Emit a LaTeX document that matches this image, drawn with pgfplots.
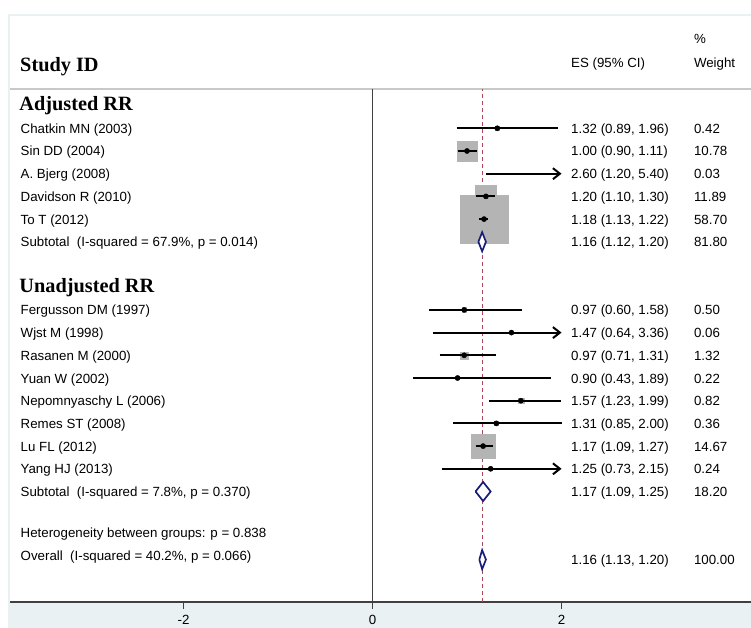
\documentclass[border=0pt]{standalone}
\usepackage{fontspec}
\setmainfont{Liberation Sans}
\newfontfamily\headfont{Liberation Serif}
\usepackage{pgfplots}
\usepackage{pgfplotstable}
\pgfplotsset{compat=1.18}
\usetikzlibrary{arrows.meta}

\definecolor{regionblue}{RGB}{233,241,243}
\definecolor{boxgray}{RGB}{180,180,180}
\definecolor{diamondnavy}{RGB}{26,30,122}
\definecolor{refred}{RGB}{176,72,88}
\definecolor{axisgray}{RGB}{64,64,64}
\definecolor{rulegray}{RGB}{200,200,200}

% study estimates: row (counted from the bottom), ES, 95% CI, % weight
\pgfplotstableread{
row es   lo   hi   w
20  1.32 0.89 1.96 0.42
19  1.00 0.90 1.11 10.78
18  2.60 1.20 5.40 0.03
17  1.20 1.10 1.30 11.89
16  1.18 1.13 1.22 58.70
12  0.97 0.60 1.58 0.50
11  1.47 0.64 3.36 0.06
10  0.97 0.71 1.31 1.32
9   0.90 0.43 1.89 0.22
8   1.57 1.23 1.99 0.82
7   1.31 0.85 2.00 0.36
6   1.17 1.09 1.27 14.67
5   1.25 0.73 2.15 0.24
}\studies

\tikzset{
  txt/.style={anchor=base west, inner sep=0pt, font=\fontsize{13.3}{15}\selectfont},
  row/.style={txt, yshift=-5pt},
  head/.style={anchor=base west, inner sep=0pt, font=\headfont\bfseries\fontsize{20.3}{23}\selectfont},
  ci/.style={black, line width=2pt, line cap=butt},
  ciarrow/.style={ci, -{Straight Barb[length=7pt, width=11pt]}},
  pooled/.style={draw=diamondnavy, fill=white, line width=1.7pt, line join=miter},
}

\begin{document}
\begin{tikzpicture}
\begin{axis}[
  set layers,
  x=94.5pt, y=22.7pt,
  xmin=-3.836, xmax=4.005,
  ymin=-0.868, ymax=21.731,
  clip=false, clip marker paths=true,
  axis x line=bottom, axis y line=none,
  axis line style={-, draw=axisgray, line width=1.5pt},
  xtick={-2,0,2}, ytick=\empty,
  tick align=outside, major tick length=7pt,
  tick style={axisgray, line width=1.2pt},
  /pgf/number format/assume math mode=true,
  xticklabel style={font=\fontsize{13.3}{15}\selectfont, inner sep=0pt, yshift=-6pt},
]
% graph region and plot region backgrounds
\begin{pgfonlayer}{axis background}
  \fill[regionblue] (axis cs:-3.857,-2.013) rectangle (axis cs:4.005,25.035);
  \fill[white] (axis cs:-3.836,-0.868) rectangle (axis cs:4.005,24.947);
\end{pgfonlayer}
\coordinate (bbsw) at (axis cs:-3.942,-2.013);
\coordinate (bbne) at (axis cs:4.005,25.652);

% header rule and null line
\draw[rulegray, line width=1.5pt] (axis cs:-3.836,21.731) -- (axis cs:4.005,21.731);
\addplot[axisgray, line width=1.5pt] coordinates {(0,-0.868) (0,21.731)};

% overall effect line, behind the weight boxes
\addplot[refred, line width=0.9pt, dash pattern=on 4pt off 3pt]
  coordinates {(1.16,-0.868) (1.16,21.731)};

% weight boxes (area proportional to weight)
\addplot[scatter, only marks, mark=square*,
  restrict x to domain=0:2,
  scatter/use mapped color={draw=boxgray, fill=boxgray},
  visualization depends on={3.11*sqrt(\thisrow{w}) \as \halfside},
  scatter/@pre marker code/.append style={/tikz/mark size=\halfside}]
  table[x=es, y=row] {\studies};

% confidence intervals (truncated at 2 with an arrow)
\addplot[ci] coordinates {(0.89,20) (1.96,20)};
\addplot[ci] coordinates {(0.90,19) (1.11,19)};
\addplot[ciarrow] coordinates {(1.20,18) (2,18)};
\addplot[ci] coordinates {(1.10,17) (1.30,17)};
\addplot[ci] coordinates {(1.13,16) (1.22,16)};
\addplot[ci] coordinates {(0.60,12) (1.58,12)};
\addplot[ciarrow] coordinates {(0.64,11) (2,11)};
\addplot[ci] coordinates {(0.71,10) (1.31,10)};
\addplot[ci] coordinates {(0.43,9) (1.89,9)};
\addplot[ci] coordinates {(1.23,8) (1.99,8)};
\addplot[ci] coordinates {(0.85,7) (2.00,7)};
\addplot[ci] coordinates {(1.09,6) (1.27,6)};
\addplot[ciarrow] coordinates {(0.73,5) (2,5)};

% point estimates
\addplot[only marks, mark=*, mark size=2.6pt, black, restrict x to domain=0:2]
  table[x=es, y=row] {\studies};

% pooled estimates
\addplot[pooled] coordinates {(1.12,15) (1.16,15.42) (1.20,15) (1.16,14.58) (1.12,15)};
\addplot[pooled] coordinates {(1.09,4) (1.17,4.42) (1.25,4) (1.17,3.58) (1.09,4)};
\addplot[pooled] coordinates {(1.13,1) (1.16,1.42) (1.20,1) (1.16,0.58) (1.13,1)};

% column headers
\node[head] at (axis cs:-3.730,22.493) {Study ID};
\node[txt] at (axis cs:2.100,22.687) {ES (95\% CI)};
\node[txt] at (axis cs:3.400,23.744) {\%};
\node[txt] at (axis cs:3.400,22.687) {Weight};

% group headings
\node[head] at (axis cs:-3.738,20.762) {Adjusted RR};
\node[head] at (axis cs:-3.738,12.745) {Unadjusted RR};

% study labels
\node[row] at (axis cs:-3.725,20) {Chatkin MN (2003)};
\node[row] at (axis cs:-3.725,19) {Sin DD (2004)};
\node[row] at (axis cs:-3.725,18) {A. Bjerg (2008)};
\node[row] at (axis cs:-3.725,17) {Davidson R (2010)};
\node[row] at (axis cs:-3.725,16) {To T (2012)};
\node[row] at (axis cs:-3.725,15) {Subtotal\ \ (I-squared = 67.9\%, p = 0.014)};
\node[row] at (axis cs:-3.725,12) {Fergusson DM (1997)};
\node[row] at (axis cs:-3.725,11) {Wjst M (1998)};
\node[row] at (axis cs:-3.725,10) {Rasanen M (2000)};
\node[row] at (axis cs:-3.725,9) {Yuan W (2002)};
\node[row] at (axis cs:-3.725,8) {Nepomnyaschy L (2006)};
\node[row] at (axis cs:-3.725,7) {Remes ST (2008)};
\node[row] at (axis cs:-3.725,6) {Lu FL (2012)};
\node[row] at (axis cs:-3.725,5) {Yang HJ (2013)};
\node[row] at (axis cs:-3.725,4) {Subtotal\ \ (I-squared = 7.8\%, p = 0.370)};
\node[row] at (axis cs:-3.725,2.2) {Heterogeneity between groups: p = 0.838};
\node[row] at (axis cs:-3.725,1.2) {Overall\ \ (I-squared = 40.2\%, p = 0.066)};

% effect sizes
\node[row] at (axis cs:2.100,20) {1.32 (0.89, 1.96)};
\node[row] at (axis cs:2.100,19) {1.00 (0.90, 1.11)};
\node[row] at (axis cs:2.100,18) {2.60 (1.20, 5.40)};
\node[row] at (axis cs:2.100,17) {1.20 (1.10, 1.30)};
\node[row] at (axis cs:2.100,16) {1.18 (1.13, 1.22)};
\node[row] at (axis cs:2.100,15) {1.16 (1.12, 1.20)};
\node[row] at (axis cs:2.100,12) {0.97 (0.60, 1.58)};
\node[row] at (axis cs:2.100,11) {1.47 (0.64, 3.36)};
\node[row] at (axis cs:2.100,10) {0.97 (0.71, 1.31)};
\node[row] at (axis cs:2.100,9) {0.90 (0.43, 1.89)};
\node[row] at (axis cs:2.100,8) {1.57 (1.23, 1.99)};
\node[row] at (axis cs:2.100,7) {1.31 (0.85, 2.00)};
\node[row] at (axis cs:2.100,6) {1.17 (1.09, 1.27)};
\node[row] at (axis cs:2.100,5) {1.25 (0.73, 2.15)};
\node[row] at (axis cs:2.100,4) {1.17 (1.09, 1.25)};
\node[row] at (axis cs:2.100,1) {1.16 (1.13, 1.20)};

% weights
\node[row] at (axis cs:3.400,20) {0.42};
\node[row] at (axis cs:3.400,19) {10.78};
\node[row] at (axis cs:3.400,18) {0.03};
\node[row] at (axis cs:3.400,17) {11.89};
\node[row] at (axis cs:3.400,16) {58.70};
\node[row] at (axis cs:3.400,15) {81.80};
\node[row] at (axis cs:3.400,12) {0.50};
\node[row] at (axis cs:3.400,11) {0.06};
\node[row] at (axis cs:3.400,10) {1.32};
\node[row] at (axis cs:3.400,9) {0.22};
\node[row] at (axis cs:3.400,8) {0.82};
\node[row] at (axis cs:3.400,7) {0.36};
\node[row] at (axis cs:3.400,6) {14.67};
\node[row] at (axis cs:3.400,5) {0.24};
\node[row] at (axis cs:3.400,4) {18.20};
\node[row] at (axis cs:3.400,1) {100.00};
\end{axis}
\pgfresetboundingbox
\path[use as bounding box] (bbsw) rectangle (bbne);
\end{tikzpicture}
\end{document}
